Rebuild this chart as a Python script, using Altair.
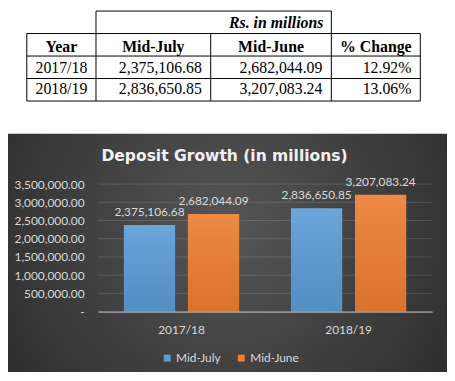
import altair as alt
import pandas as pd

# ---------------- data ----------------
years = ["2017/18", "2018/19"]
series = ["Mid-July", "Mid-June"]
mid_july = [2375106.68, 2836650.85]
mid_june = [2682044.09, 3207083.24]
pct_change = ["12.92%", "13.06%"]
y_ticks = [0, 500000, 1000000, 1500000, 2000000, 2500000, 3000000, 3500000]

chart_title = "Deposit Growth (in millions)"
table_note = "Rs. in millions"
table_headers = ["Year", "Mid-July", "Mid-June", "% Change"]

# ---------------- styles ----------------
BLUE = "#5b9bd5"
ORANGE = "#ed7d31"
LIGHT = "#d9d9d9"
SANS = "Lato"
SERIF = "Liberation Serif"
W, H = 338, 129

# ---------------- table (column units / row units) ----------------
col_edges_px = [-72, -2, 114, 236, 326]
row_edges_px = [-175, -84]

rules = []
rules.append(dict(x=1, x2=3, y=0, y2=0))
rules.append(dict(x=1, x2=1, y=0, y2=1))
rules.append(dict(x=3, x2=3, y=0, y2=1))
for r in range(1, 5):
    rules.append(dict(x=0, x2=4, y=r, y2=r))
for c in range(0, 5):
    rules.append(dict(x=c, x2=c, y=1, y2=4))
rules_df = pd.DataFrame(rules)

header_df = pd.DataFrame({"t": table_headers, "c": [i + 0.5 for i in range(4)], "r": [1.58] * 4})
note_df = pd.DataFrame({"t": [table_note], "c": [3], "r": [0.52]})
year_df = pd.DataFrame({"t": years, "c": [0.5, 0.5], "r": [2.52, 3.48]})
num_text, num_c, num_r = [], [], []
for i in range(len(years)):
    for c, v in ((2, f"{mid_july[i]:,.2f}"), (3, f"{mid_june[i]:,.2f}"), (4, pct_change[i])):
        num_text.append(v); num_c.append(c); num_r.append(2.52 + 0.96 * i)
num_df = pd.DataFrame({"t": num_text, "c": num_c, "r": num_r})

tx = alt.Scale(domain=[0, 1, 2, 3, 4], range=col_edges_px)
ty = alt.Scale(domain=[0, 4], range=row_edges_px)

def tX(f="c"):
    return alt.X(f"{f}:Q", scale=tx, axis=None)

def tY(f="r"):
    return alt.Y(f"{f}:Q", scale=ty, axis=None)

t_rules = alt.Chart(rules_df).mark_rule(color="#000000", strokeWidth=1).encode(
    x=tX("x"), x2="x2:Q", y=tY("y"), y2="y2:Q")
t_header = alt.Chart(header_df).mark_text(font=SERIF, fontSize=16, fontWeight="bold",
                                          align="center", baseline="middle", color="#000").encode(
    x=tX(), y=tY(), text="t:N")
t_note = alt.Chart(note_df).mark_text(font=SERIF, fontSize=16, fontWeight="bold", fontStyle="italic",
                                      align="right", baseline="middle", dx=-8, color="#000").encode(
    x=tX(), y=tY(), text="t:N")
t_year = alt.Chart(year_df).mark_text(font=SERIF, fontSize=16, align="center",
                                      baseline="middle", color="#000").encode(
    x=tX(), y=tY(), text="t:N")
t_num = alt.Chart(num_df).mark_text(font=SERIF, fontSize=16, align="right",
                                    baseline="middle", dx=-9, color="#000").encode(
    x=tX(), y=tY(), text="t:N")

# ---------------- bar chart ----------------
bar_df = pd.DataFrame({
    "Year": years * 2,
    "Series": [s for s in series for _ in years],
    "Value": mid_july + mid_june,
})
bar_df["Label"] = bar_df["Value"].map(lambda v: f"{v:,.2f}")
grid_df = pd.DataFrame({"Value": y_ticks})

X = alt.X("Year:N", sort=years,
          scale=alt.Scale(paddingInner=0.31, paddingOuter=0.155),
          axis=alt.Axis(title=None, labelAngle=0, ticks=False, tickSize=0, labelPadding=13,
                        labelColor=LIGHT, labelFont=SANS, labelFontSize=12,
                        domainColor="#bfbfbf", domainWidth=1, grid=False, zindex=2))
Y = alt.Y("Value:Q", scale=alt.Scale(domain=[0, 3500000], nice=False),
          axis=alt.Axis(title=None, values=y_ticks, ticks=False, tickSize=0, domain=False,
                        labelPadding=14, labelColor=LIGHT, labelFont=SANS, labelFontSize=12,
                        labelExpr="datum.value == 0 ? '-\u00a0\u00a0' : format(datum.value, ',.2f')",
                        grid=False, zindex=2))
XO = alt.XOffset("Series:N", sort=series, scale=alt.Scale(paddingInner=0.2, paddingOuter=0))

panel_grad = alt.RadialGradient(
    gradient="radial", x1=0.5, y1=0.45, x2=0.5, y2=0.45, r1=0, r2=0.75,
    stops=[alt.GradientStop(color="#565656", offset=0),
           alt.GradientStop(color="#242424", offset=1)])

one = pd.DataFrame({"k": [0]})
panel = alt.Chart(one).mark_rect(color=panel_grad).encode(
    x=alt.value(-91), x2=alt.value(353), y=alt.value(-51), y2=alt.value(190))

grid = alt.Chart(grid_df).mark_rule(color="#ffffff", opacity=0.13, strokeWidth=1).encode(
    y=Y, x=alt.value(0), x2=alt.value(W))

title_mark = alt.Chart(one).mark_text(text=chart_title, font="DejaVu Sans", fontWeight="bold",
                                      fontSize=15.7, color="#f2f2f2", align="center",
                                      baseline="alphabetic").encode(
    x=alt.value(128), y=alt.value(-23))

bars = alt.Chart(bar_df).mark_bar().encode(
    x=X, y=Y, xOffset=XO,
    color=alt.Color("Series:N", sort=series,
                    scale=alt.Scale(domain=series, range=[BLUE, ORANGE]),
                    legend=alt.Legend(title=None, orient="none", legendX=64, legendY=170,
                                      direction="horizontal", symbolType="square", symbolSize=49,
                                      symbolStrokeWidth=0, labelColor=LIGHT, labelFont=SANS,
                                      labelFontSize=12, columnPadding=14, labelOffset=3)))

shade_grad = alt.LinearGradient(
    gradient="linear", x1=0, y1=0, x2=0, y2=1,
    stops=[alt.GradientStop(color="rgba(255,255,255,0.10)", offset=0),
           alt.GradientStop(color="rgba(0,0,0,0.08)", offset=1)])
shade = alt.Chart(bar_df).mark_bar(color=shade_grad).encode(x=X, y=Y, xOffset=XO)

labels = alt.Chart(bar_df).mark_text(font=SANS, fontSize=12, color=LIGHT, baseline="alphabetic",
                                     dy=-9).encode(x=X, y=Y, xOffset=XO, text="Label:N")

bar_group = alt.layer(panel, grid, title_mark, bars, shade, labels)

chart = alt.layer(bar_group, t_rules, t_header, t_note, t_year, t_num).resolve_scale(
    x="independent", y="independent").properties(
    width=W, height=H, padding=0, background="#ffffff").configure_view(stroke=None)

chart.save("out.html", embed_options={"renderer": "svg", "actions": False})
